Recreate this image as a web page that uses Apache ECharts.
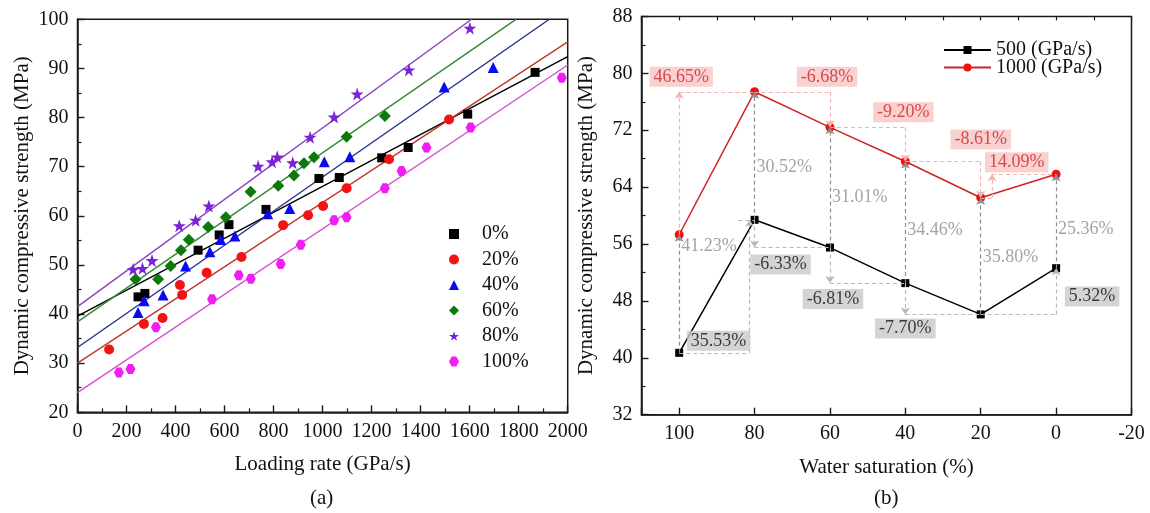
<!DOCTYPE html>
<html><head><meta charset="utf-8">
<script src="https://cdn.jsdelivr.net/npm/echarts@6/dist/echarts.min.js"></script>
<style>html,body{margin:0;padding:0;background:#fff}#c{width:1150px;height:513px}</style>
</head><body><div id="c"></div>
<script>
// ===== Panel (a): loading rate vs dynamic compressive strength =====
const rate0   = [247, 275, 492, 578, 618, 769, 985, 1068, 1241, 1349, 1592, 1867];
const dcs0    = [43.5, 44.2, 53.0, 56.1, 58.2, 61.3, 67.6, 67.8, 71.8, 73.9, 80.7, 89.2];
const rate20  = [129, 271, 347, 418, 427, 527, 669, 839, 941, 1002, 1098, 1271, 1516];
const dcs20   = [32.8, 38.0, 39.2, 45.9, 43.9, 48.4, 51.6, 58.1, 60.1, 62.0, 65.6, 71.5, 79.6];
const rate40  = [247, 272, 349, 441, 540, 584, 642, 776, 866, 1007, 1111, 1496, 1696];
const dcs40   = [40.3, 42.7, 43.9, 49.8, 52.7, 55.2, 55.9, 60.4, 61.5, 71.0, 72.0, 86.2, 90.2];
const rate60  = [237, 329, 380, 422, 454, 533, 605, 706, 819, 883, 924, 965, 1098, 1254];
const dcs60   = [47.1, 47.1, 49.8, 53.0, 55.1, 57.7, 59.7, 64.9, 66.1, 68.2, 70.7, 71.9, 76.1, 80.3];
const rate80  = [227, 265, 304, 415, 482, 536, 737, 794, 815, 878, 949, 1047, 1141, 1352, 1601];
const dcs80   = [49.1, 49.3, 50.9, 58.0, 59.1, 62.0, 70.1, 71.0, 72.0, 70.8, 76.0, 80.1, 84.8, 89.7, 98.2];
const rate100 = [169, 216, 320, 549, 658, 707, 829, 911, 1047, 1098, 1254, 1322, 1424, 1604, 1976];
const dcs100  = [28.1, 28.8, 37.3, 43.0, 47.9, 47.2, 50.2, 54.1, 59.1, 59.7, 65.6, 69.1, 73.9, 78.0, 88.1];
const saturationNames = ['0%', '20%', '40%', '60%', '80%', '100%'];
// fitted lines (end points)
const fitX0 = [0, 2000],   fitY0 = [39.6, 92.4];
const fitX20 = [0, 2000],  fitY20 = [30.0, 95.4];
const fitX40 = [0, 1925],  fitY40 = [33.2, 100];
const fitX60 = [0, 1789],  fitY60 = [38.4, 100];
const fitX80 = [0, 1608],  fitY80 = [41.5, 100];
const fitX100 = [0, 2000], fitY100 = [24.0, 90.7];

// ===== Panel (b): water saturation =====
const saturation = [100, 80, 60, 40, 20, 0];
const dcs500  = [40.7, 59.4, 55.5, 50.5, 46.1, 52.6];
const dcs1000 = [57.3, 77.4, 72.4, 67.6, 62.5, 65.8];
const rateNames = ['500 (GPa/s)', '1000 (GPa/s)'];
const change500Labels  = ['35.53%', '-6.33%', '-6.81%', '-7.70%', '5.32%'];
const change1000Labels = ['46.65%', '-6.68%', '-9.20%', '-8.61%', '14.09%'];
const ratioLabels = ['41.23%', '30.52%', '31.01%', '34.46%', '35.80%', '25.36%'];

// ===== styling =====
const FONT = 'Liberation Serif';
const INK = '#1a1a1a';
const pairs = (xs, ys) => xs.map((x, i) => [x, ys[i]]);
const STAR = 'path://M50,0 L61.8,35.1 L98.1,35.1 L68.8,56.7 L79.4,90.5 L50,69.4 L20.6,90.5 L31.2,56.7 L1.9,35.1 L38.2,35.1 Z';
const HEX = 'path://M27,0 L73,0 L100,50 L73,100 L27,100 L0,50 Z';

const groupsA = [
  {x: rate0, y: dcs0, fx: fitX0, fy: fitY0, symbol: 'rect', size: 9, color: '#000000', line: '#000000'},
  {x: rate20, y: dcs20, fx: fitX20, fy: fitY20, symbol: 'circle', size: 10, color: '#f01414', line: '#c0392b'},
  {x: rate40, y: dcs40, fx: fitX40, fy: fitY40, symbol: 'triangle', size: 11, color: '#0a0af0', line: '#23308f'},
  {x: rate60, y: dcs60, fx: fitX60, fy: fitY60, symbol: 'diamond', size: 12, color: '#0b7a0b', line: '#358a35'},
  {x: rate80, y: dcs80, fx: fitX80, fy: fitY80, symbol: STAR, size: 13, color: '#7a22d6', line: '#8b3fc4'},
  {x: rate100, y: dcs100, fx: fitX100, fy: fitY100, symbol: HEX, size: 10, color: '#f01ef0', line: '#d24fd2'}
];

function axisBase(o) {
  return Object.assign({
    type: 'value',
    axisLine: {show: true, onZero: false, lineStyle: {color: INK, width: 1.5}},
    axisTick: {show: true, inside: true, length: 7, lineStyle: {color: INK, width: 1.4}},
    minorTick: {show: true, splitNumber: 2, length: 4, lineStyle: {color: INK, width: 1.2}},
    splitLine: {show: false},
    axisLabel: {color: '#111', fontFamily: FONT, fontSize: 20, margin: 9, formatter: v => String(v)},
    nameLocation: 'middle',
    nameTextStyle: {color: '#111', fontFamily: FONT, fontSize: 21}
  }, o);
}

const series = [];
groupsA.forEach((g, i) => {
  series.push({
    type: 'line', name: 'fit' + i, xAxisIndex: 0, yAxisIndex: 0,
    data: pairs(g.fx, g.fy), showSymbol: false, symbol: 'none', silent: true,
    lineStyle: {color: g.line, width: 1.4}, z: 2
  });
});
groupsA.forEach((g, i) => {
  series.push({
    type: 'scatter', name: saturationNames[i], xAxisIndex: 0, yAxisIndex: 0,
    data: pairs(g.x, g.y), symbol: g.symbol, symbolSize: g.size,
    itemStyle: {color: g.color, opacity: 1}, z: 3
  });
});

// right panel lines
series.push({
  type: 'line', name: rateNames[0], xAxisIndex: 1, yAxisIndex: 1,
  data: pairs(saturation, dcs500), symbol: 'rect', symbolSize: 8,
  itemStyle: {color: '#000'}, lineStyle: {color: '#000', width: 1.5}, z: 4
});
series.push({
  type: 'line', name: rateNames[1], xAxisIndex: 1, yAxisIndex: 1,
  data: pairs(saturation, dcs1000), symbol: 'circle', symbolSize: 9,
  itemStyle: {color: '#ee1111'}, lineStyle: {color: '#cc2424', width: 1.5}, z: 4
});

// annotation guide lines built from the data
const redShift = [0, 0, 0, 0, -3];
const blackShift = [1.3, 0, 0, 0, 0];
function seg(a, b, arrow) {
  return [{coord: a, symbol: 'none'}, {coord: b, symbol: arrow ? 'arrow' : 'none', symbolSize: 7}];
}
const redSegs = [], blackSegs = [], ratioSegs = [];
const redAnchors = [], blackAnchors = [], ratioAnchors = [];
for (let i = 0; i < saturation.length - 1; i++) {
  const x0 = saturation[i], x1 = saturation[i + 1];
  const r0 = dcs1000[i], r1 = dcs1000[i + 1];
  if (r1 > r0) {
    const xv = x0 + redShift[i];
    if (xv !== x0) redSegs.push(seg([x0, r0], [xv, r0], false));
    redSegs.push(seg([xv, r0], [xv, r1], true));
    redSegs.push(seg([xv, r1], [x1, r1], false));
    redAnchors.push([x0, r1]);
  } else {
    redSegs.push(seg([x0, r0], [x1, r0], false));
    redSegs.push(seg([x1, r0], [x1, r1], true));
    redAnchors.push([x1, r0]);
  }
  const b0 = dcs500[i], b1 = dcs500[i + 1];
  if (b1 > b0) {
    const xv = x1 + blackShift[i];
    blackSegs.push(seg([x0, b0], [xv, b0], false));
    blackSegs.push(seg([xv, b0], [xv, b1], true));
    if (xv !== x1) blackSegs.push(seg([xv + 3, b1], [x1, b1], false));
    blackAnchors.push([x1, b0]);
  } else {
    blackSegs.push(seg([x0, b0], [x0, b1], true));
    blackSegs.push(seg([x0, b1], [x1, b1], false));
    blackAnchors.push([x0, b1]);
  }
}
saturation.forEach((x, i) => {
  ratioSegs.push(seg([x, dcs500[i]], [x, dcs1000[i]], true));
  ratioAnchors.push([x, (dcs500[i] + dcs1000[i]) / 2]);
});

function guideSeries(segs, color, arrowColor) {
  return {
    type: 'scatter', xAxisIndex: 1, yAxisIndex: 1, data: [], silent: true, z: 1,
    markLine: {
      silent: true, animation: false, symbol: ['none', 'arrow'], symbolSize: 7,
      label: {show: false}, emphasis: {disabled: true},
      lineStyle: {color: color, type: [4, 3], width: 1.2},
      itemStyle: {color: arrowColor},
      data: segs
    }
  };
}
series.push(guideSeries(redSegs, '#f1b2b2', '#eea0a0'));
series.push(guideSeries(blackSegs, '#b8b8b8', '#a6a6a6'));
series.push(guideSeries(ratioSegs, '#8e8e8e', '#7c7c7c'));

const redOffsets = [[2, -15], [-3, -15], [-2, -15], [0, -22], [36, -12]];
const blackOffsets = [[-36, -12], [26, 17], [3, 16], [0, 14], [36, -18]];
const ratioOffsets = [[0, -48], [0, 11], [0, 10], [0, 8], [0, 1], [0, 8]];
function labelSeries(anchors, texts, offsets, lab) {
  return {
    type: 'scatter', xAxisIndex: 1, yAxisIndex: 1, symbolSize: 0, silent: true, z: 10,
    data: anchors.map((p, i) => ({value: p, label: {offset: offsets[i]}})),
    label: Object.assign({
      show: true, fontFamily: FONT, fontSize: 18,
      formatter: p => texts[p.dataIndex]
    }, lab)
  };
}
series.push(labelSeries(redAnchors, change1000Labels, redOffsets,
  {position: 'inside', color: '#d12626', backgroundColor: '#f7c6c6', padding: [2, 4, 0, 4]}));
series.push(labelSeries(blackAnchors, change500Labels, blackOffsets,
  {position: 'inside', color: '#111', backgroundColor: '#c9c9c9', padding: [2, 4, 0, 4]}));
series.push(labelSeries(ratioAnchors, ratioLabels, ratioOffsets,
  {position: 'right', distance: 2, color: '#8c8c8c'}));

const option = {
  animation: false,
  backgroundColor: '#fff',
  textStyle: {fontFamily: FONT},
  grid: [
    {left: 77.5, right: 582.3, top: 19.3, bottom: 100.7, show: true, borderColor: INK, borderWidth: 1.5, containLabel: false},
    {left: 641.5, right: 18.5, top: 16.4, bottom: 98.3, show: true, borderColor: INK, borderWidth: 1.5, containLabel: false}
  ],
  xAxis: [
    axisBase({gridIndex: 0, min: 0, max: 2000, interval: 200, name: 'Loading rate (GPa/s)', nameGap: 42}),
    axisBase({gridIndex: 1, min: -20, max: 110, interval: 20, inverse: true, minorTick: {show: false},
      name: 'Water saturation (%)', nameGap: 42,
      axisLabel: {color: '#111', fontFamily: FONT, fontSize: 20, margin: 9, formatter: v => (v > 100 ? '' : String(v))}}),
    axisBase({gridIndex: 1, min: -20, max: 110, interval: 10, inverse: true, minorTick: {show: false},
      axisLine: {show: false}, axisLabel: {show: false},
      axisTick: {show: true, inside: true, length: 4, lineStyle: {color: INK, width: 1.2}}})
  ],
  yAxis: [
    axisBase({gridIndex: 0, min: 20, max: 100, interval: 10, name: 'Dynamic compressive strength (MPa)', nameGap: 45}),
    axisBase({gridIndex: 1, min: 32, max: 88, interval: 8, name: 'Dynamic compressive strength (MPa)', nameGap: 45})
  ],
  legend: [
    {
      data: saturationNames, orient: 'vertical', left: 444, top: 219, itemGap: 5.5,
      itemWidth: 10, itemHeight: 10, selectedMode: false,
      textStyle: {fontFamily: FONT, fontSize: 20, color: '#111', padding: [0, 0, 0, 18]}
    },
    {
      data: rateNames, orient: 'vertical', left: 938, top: 35, itemGap: -2.5,
      itemWidth: 47, itemHeight: 10, selectedMode: false,
      textStyle: {fontFamily: FONT, fontSize: 20, color: '#111'}
    }
  ],
  graphic: [
    {type: 'text', left: 310, top: 488, style: {text: '(a)', fontFamily: FONT, fontSize: 21, fill: '#111'}},
    {type: 'text', left: 874, top: 488, style: {text: '(b)', fontFamily: FONT, fontSize: 21, fill: '#111'}}
  ],
  series: series
};
const chart = echarts.init(document.getElementById('c'), null, {renderer: 'canvas'});
chart.setOption(option);
</script>
</body></html>
